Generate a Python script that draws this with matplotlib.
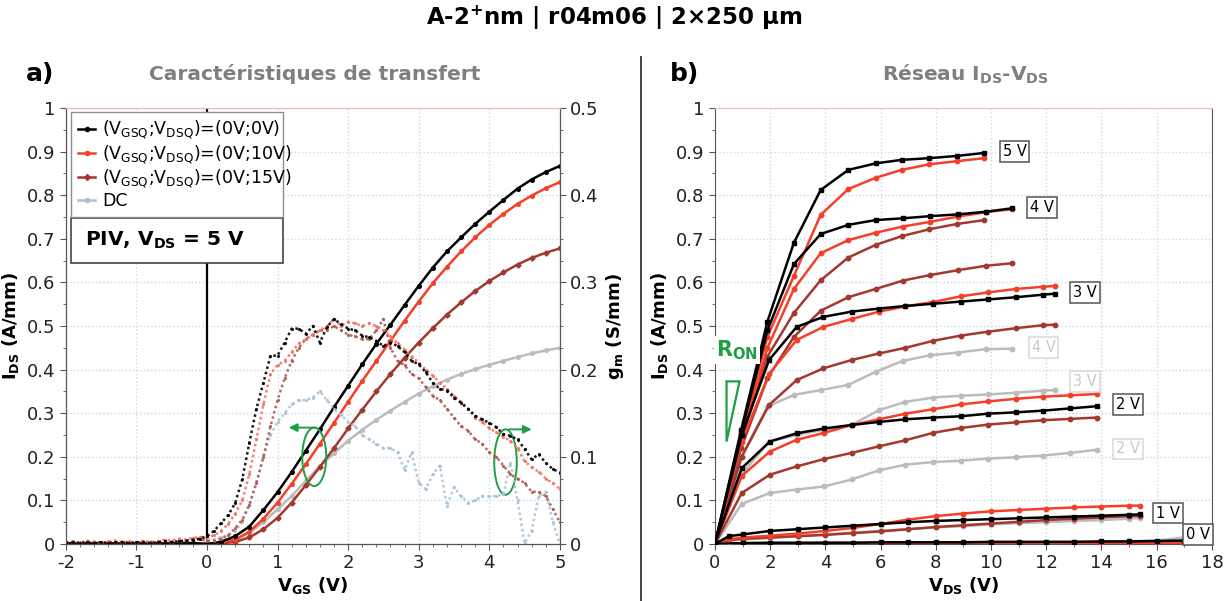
import numpy as np
import matplotlib
matplotlib.use("Agg")
import matplotlib.pyplot as plt
from matplotlib.patches import Ellipse, Rectangle, Polygon
from matplotlib.lines import Line2D
from matplotlib.ticker import MultipleLocator

plt.rcParams['font.family'] = ['DejaVu Sans']
plt.rcParams['mathtext.default'] = 'regular'
plt.rcParams['axes.unicode_minus'] = False

# ---------------- a) transfer characteristics (VDS = 5 V) ----------------
vgs_ids = np.round(np.arange(-2, 5.001, 0.2), 1)   # sweep, 36 points
ids_neg = [0.002, 0.001, 0.002, 0.001, 0.002, 0.001, 0.002, 0.001, 0.002, 0.002]
ids_0v0v = ids_neg + [0.0, 0.005, 0.018, 0.04, 0.078, 0.119, 0.165, 0.214, 0.263, 0.314,
                      0.363, 0.412, 0.459, 0.503, 0.548, 0.592, 0.634, 0.671, 0.703, 0.734,
                      0.762, 0.789, 0.815, 0.836, 0.853, 0.867]
ids_0v10v = ids_neg + [0.0, 0.003, 0.01, 0.028, 0.058, 0.095, 0.138, 0.183, 0.23, 0.278,
                       0.326, 0.374, 0.42, 0.466, 0.512, 0.556, 0.598, 0.636, 0.671, 0.703,
                       0.732, 0.757, 0.78, 0.799, 0.816, 0.83]
ids_0v15v = ids_neg + [0.0, 0.001, 0.005, 0.015, 0.034, 0.06, 0.095, 0.135, 0.177, 0.22,
                       0.265, 0.308, 0.35, 0.39, 0.427, 0.462, 0.495, 0.526, 0.554, 0.58,
                       0.603, 0.623, 0.641, 0.656, 0.668, 0.678]
ids_dc = ids_neg + [0.0, 0.003, 0.01, 0.025, 0.05, 0.08, 0.11, 0.145, 0.178, 0.208,
                    0.237, 0.262, 0.285, 0.306, 0.326, 0.345, 0.362, 0.377, 0.39, 0.401,
                    0.411, 0.42, 0.429, 0.437, 0.444, 0.45]

vgs_gm = np.round(np.arange(-2, 5.001, 0.1), 1)    # sweep, 71 points
gm_neg_a = [0.001, 0.002, 0.001, 0.002, 0.001, 0.002, 0.001, 0.002, 0.002, 0.001,
            0.002, 0.002, 0.001, 0.002, 0.003, 0.002, 0.003, 0.004, 0.005, 0.006]
gm_neg_b = [0.002, 0.003, 0.001, 0.004, 0.002, 0.001, 0.003, 0.004, 0.002, 0.003,
            0.001, 0.004, 0.002, 0.003, 0.005, 0.004, 0.006, 0.005, 0.007, 0.008]
gm_0v0v = gm_neg_a + [0.009, 0.015, 0.024, 0.033, 0.047, 0.074, 0.116, 0.155, 0.185, 0.216,
                      0.216, 0.231, 0.247, 0.247, 0.241, 0.25, 0.231, 0.249, 0.258, 0.252,
                      0.247, 0.245, 0.239, 0.237, 0.233, 0.227, 0.231, 0.227, 0.22, 0.21,
                      0.206, 0.197, 0.185, 0.178, 0.176, 0.168, 0.162, 0.155, 0.147, 0.143,
                      0.139, 0.134, 0.126, 0.124, 0.12, 0.109, 0.097, 0.103, 0.093, 0.086,
                      0.082]
gm_0v10v = gm_neg_b + [0.008, 0.01, 0.015, 0.023, 0.035, 0.05, 0.08, 0.12, 0.16, 0.195,
                       0.205, 0.21, 0.22, 0.23, 0.235, 0.24, 0.245, 0.25, 0.258, 0.25,
                       0.255, 0.253, 0.25, 0.253, 0.25, 0.245, 0.238, 0.23, 0.223, 0.215,
                       0.208, 0.2, 0.193, 0.185, 0.178, 0.17, 0.163, 0.155, 0.145, 0.14,
                       0.133, 0.128, 0.123, 0.118, 0.11, 0.095, 0.088, 0.083, 0.075, 0.07,
                       0.063]
gm_0v15v = gm_neg_a + [0.003, 0.004, 0.006, 0.01, 0.018, 0.028, 0.045, 0.07, 0.1, 0.135,
                       0.165, 0.19, 0.21, 0.225, 0.235, 0.24, 0.245, 0.245, 0.25, 0.245,
                       0.24, 0.238, 0.235, 0.235, 0.245, 0.258, 0.225, 0.21, 0.205, 0.195,
                       0.19, 0.18, 0.17, 0.165, 0.155, 0.145, 0.135, 0.13, 0.12, 0.115,
                       0.105, 0.1, 0.09, 0.08, 0.075, 0.07, 0.06, 0.06, 0.055, 0.04,
                       0.025]
gm_dc = gm_neg_a + [0.005, 0.005, 0.008, 0.01, 0.015, 0.025, 0.045, 0.07, 0.1, 0.125,
                    0.14, 0.15, 0.16, 0.165, 0.165, 0.168, 0.175, 0.165, 0.155, 0.148,
                    0.14, 0.135, 0.125, 0.12, 0.115, 0.11, 0.11, 0.105, 0.085, 0.105,
                    0.07, 0.063, 0.08, 0.09, 0.044, 0.065, 0.055, 0.047, 0.05, 0.055,
                    0.055, 0.055, 0.057, 0.093, 0.05, 0.001, 0.015, 0.055, 0.06, 0.025,
                    0.0]

legend_labels = [r'(V$_{GSQ}$;V$_{DSQ}$)=(0V;0V)', r'(V$_{GSQ}$;V$_{DSQ}$)=(0V;10V)',
                 r'(V$_{GSQ}$;V$_{DSQ}$)=(0V;15V)', 'DC']

# ---------------- b) IDS-VDS network ----------------
vds5 = [0, 0.95, 1.9, 2.86, 3.83, 4.83, 5.82, 6.76, 7.77, 8.76, 9.76]
black5 = [0, 0.262, 0.51, 0.691, 0.812, 0.858, 0.873, 0.881, 0.885, 0.89, 0.897]
red5 = [0, 0.25, 0.475, 0.615, 0.755, 0.814, 0.84, 0.858, 0.871, 0.878, 0.885]
dred5 = [0, 0.235, 0.43, 0.53, 0.605, 0.657, 0.686, 0.706, 0.722, 0.734, 0.743]

vds4 = [0, 0.95, 1.9, 2.86, 3.83, 4.83, 5.82, 6.8, 7.8, 8.8, 9.8, 10.76]
black4 = [0, 0.255, 0.49, 0.642, 0.711, 0.732, 0.743, 0.747, 0.752, 0.756, 0.762, 0.77]
red4 = [0, 0.24, 0.45, 0.585, 0.667, 0.697, 0.714, 0.728, 0.739, 0.751, 0.761, 0.768]
dred4 = [0, 0.22, 0.38, 0.475, 0.535, 0.566, 0.585, 0.604, 0.617, 0.628, 0.638, 0.644]
gray4 = [0, 0.2, 0.315, 0.342, 0.353, 0.365, 0.395, 0.42, 0.433, 0.439, 0.447, 0.448]

vds3 = [0, 0.97, 1.96, 2.96, 3.93, 4.95, 5.94, 6.9, 7.9, 8.9, 9.9, 10.9, 11.9, 12.3]
black3 = [0, 0.25, 0.422, 0.498, 0.521, 0.533, 0.54, 0.546, 0.551, 0.556, 0.561, 0.566, 0.572, 0.574]
red3 = [0, 0.235, 0.39, 0.468, 0.498, 0.516, 0.533, 0.545, 0.555, 0.568, 0.577, 0.585, 0.59, 0.592]
dred3 = [0, 0.2, 0.319, 0.376, 0.403, 0.422, 0.437, 0.45, 0.466, 0.478, 0.487, 0.495, 0.502, 0.503]
gray3 = [0, 0.16, 0.235, 0.25, 0.262, 0.273, 0.307, 0.326, 0.336, 0.34, 0.343, 0.347, 0.352, 0.353]

vds2 = [0, 0.97, 1.99, 2.96, 3.96, 4.95, 5.94, 6.9, 7.9, 8.9, 9.9, 10.9, 11.9, 12.86, 13.82]
black2 = [0, 0.174, 0.235, 0.254, 0.265, 0.273, 0.28, 0.286, 0.29, 0.293, 0.299, 0.302, 0.306, 0.311, 0.316]
red2 = [0, 0.156, 0.212, 0.239, 0.255, 0.273, 0.286, 0.299, 0.309, 0.32, 0.327, 0.333, 0.338, 0.341, 0.344]
dred2 = [0, 0.117, 0.159, 0.178, 0.195, 0.209, 0.224, 0.238, 0.255, 0.266, 0.274, 0.279, 0.284, 0.287, 0.29]
gray2 = [0, 0.092, 0.117, 0.125, 0.132, 0.148, 0.169, 0.182, 0.188, 0.191, 0.196, 0.199, 0.203, 0.209, 0.216]

vds1 = [0, 0.5, 1, 2, 3, 4, 5, 6, 7, 8, 9, 10, 11, 12, 13, 14, 15, 15.4]
black1 = [0, 0.018, 0.022, 0.03, 0.034, 0.038, 0.042, 0.046, 0.05, 0.053, 0.055, 0.057, 0.059, 0.061, 0.063, 0.065, 0.067, 0.068]
red1 = [0, 0.011, 0.015, 0.019, 0.024, 0.03, 0.037, 0.046, 0.056, 0.064, 0.07, 0.075, 0.078, 0.081, 0.084, 0.086, 0.088, 0.088]
dred1 = [0, 0.009, 0.012, 0.015, 0.018, 0.021, 0.025, 0.029, 0.034, 0.039, 0.043, 0.047, 0.051, 0.055, 0.058, 0.061, 0.064, 0.065]
gray1 = [0, 0.007, 0.01, 0.014, 0.018, 0.022, 0.026, 0.03, 0.034, 0.038, 0.041, 0.045, 0.048, 0.05, 0.053, 0.055, 0.058, 0.06]

vds0 = [0, 1, 2, 3, 4, 5, 6, 7, 8, 9, 10, 11, 12, 13, 14, 15, 16, 17]
black0 = [0, 0.002, 0.003, 0.003, 0.003, 0.003, 0.004, 0.004, 0.004, 0.004, 0.005, 0.005, 0.005, 0.005, 0.006, 0.006, 0.007, 0.008]
red0 = [0, 0.001, 0.001, 0.001, 0.002, 0.002, 0.002, 0.002, 0.002, 0.002, 0.002, 0.002, 0.003, 0.003, 0.003, 0.003, 0.003, 0.003]
dred0 = [0, 0.001, 0.001, 0.001, 0.001, 0.001, 0.001, 0.002, 0.002, 0.002, 0.002, 0.002, 0.002, 0.002, 0.002, 0.002, 0.002, 0.002]
gray0 = [0, 0.002, 0.002, 0.002, 0.003, 0.003, 0.003, 0.003, 0.003, 0.004, 0.004, 0.004, 0.004, 0.005, 0.005, 0.006, 0.008, 0.015]

vgs_labels = ['5 V', '4 V', '3 V', '2 V', '1 V', '0 V']
label_pos = [(10.85, 0.9), (11.85, 0.771), (13.4, 0.577), (14.95, 0.32), (16.4, 0.071), (17.5, 0.021)]
dc_labels = ['4 V', '3 V', '2 V']
dc_label_pos = [(11.9, 0.45), (13.4, 0.373), (14.95, 0.218)]

# colours
BLACK = '#000000'
RED = '#f4402a'
DRED = '#a3382f'
GRAY = '#bcbcbc'
GM_RED = '#f37260'
GM_DRED = '#b05a50'
GM_DC = '#a9c2d4'
GREEN = '#1f9e45'
GRID = '#c6dbea'
PINK = '#f2b9b0'
TITLE_GRAY = '#7f7f7f'

fig = plt.figure(figsize=(12.28, 6.01), dpi=100)

fig.text(0.5, 1 - 18 / 601, r'A-2$^{+}$nm | r04m06 | 2×250 µm', ha='center', va='center',
         fontsize=16.5, fontweight='bold')
fig.text(40 / 1228, 1 - 74 / 601, 'a)', ha='center', va='center', fontsize=18, fontweight='bold')
fig.text(315 / 1228, 1 - 74 / 601, 'Caractéristiques de transfert', ha='center', va='center',
         fontsize=14.5, fontweight='bold', color=TITLE_GRAY)
fig.text(684 / 1228, 1 - 74 / 601, 'b)', ha='center', va='center', fontsize=18, fontweight='bold')
fig.text(965 / 1228, 1 - 74 / 601, r'Réseau $\mathbf{I_{DS}}$-$\mathbf{V_{DS}}$', ha='center',
         va='center', fontsize=14.5, fontweight='bold', color=TITLE_GRAY)
fig.add_artist(Line2D([641 / 1228, 641 / 1228], [0, 1 - 57 / 601], color='#333333', lw=1.3))


def style_axes(ax):
    ax.grid(True, which='major', color=GRID, ls=':', lw=1.0)
    ax.set_axisbelow(True)
    ax.spines['top'].set_color(PINK)
    for s in ['left', 'bottom', 'right']:
        ax.spines[s].set_color('#555555')
    ax.tick_params(which='both', labelsize=13, colors='#555555', labelcolor='#222222')
    ax.tick_params(which='major', length=4)
    ax.tick_params(which='minor', length=2)


# ---- panel a ----
ax1 = fig.add_axes([0.0536, 0.0948, 0.4023, 0.7255])
ax1.set_xlim(-2, 5)
ax1.set_ylim(0, 1)
ax1.set_xticks(range(-2, 6))
ax1.set_yticks(np.round(np.arange(0, 1.01, 0.1), 1))
ax1.set_yticklabels(['0'] + ['%.1f' % v for v in np.arange(0.1, 0.95, 0.1)] + ['1'])
ax1.xaxis.set_minor_locator(MultipleLocator(0.2))
ax1.yaxis.set_minor_locator(MultipleLocator(0.05))
style_axes(ax1)
ax1.axvline(0, color='black', lw=1.6, zorder=1)

ax2 = ax1.twinx()
ax2.set_ylim(0, 0.5)
ax2.set_yticks(np.round(np.arange(0, 0.51, 0.1), 1))
ax2.set_yticklabels(['0', '0.1', '0.2', '0.3', '0.4', '0.5'])
ax2.yaxis.set_minor_locator(MultipleLocator(0.025))
style_axes(ax2)
ax2.grid(False)

gm_series = [(gm_dc, GM_DC), (gm_0v15v, GM_DRED), (gm_0v10v, GM_RED), (gm_0v0v, BLACK)]
for vals, col in gm_series:
    ax2.plot(vgs_gm, vals, ls=(0, (1, 1.2)), lw=1.8, color=col, marker='.', ms=2.5, alpha=0.9)

ids_series = [(ids_dc, GRAY, 'o'), (ids_0v15v, DRED, 'D'), (ids_0v10v, RED, 'o'), (ids_0v0v, BLACK, 'o')]
for vals, col, mk in ids_series:
    ax1.plot(vgs_ids, vals, '-', color=col, lw=1.8, marker=mk, ms=2.6, zorder=3)

ax1.set_xlabel(r'$\mathbf{V_{GS}}$ (V)', fontsize=13, fontweight='bold', labelpad=2)
ax1.set_ylabel(r'$\mathbf{I_{DS}}$ (A/mm)', fontsize=13, fontweight='bold', labelpad=4)
ax2.set_ylabel(r'$\mathbf{g_{m}}$ (S/mm)', fontsize=13, fontweight='bold', labelpad=4)

# ellipses and arrows
ax1.add_patch(Ellipse((1.52, 0.2), 0.34, 0.134, fill=False, ec=GREEN, lw=1.4, zorder=6))
ax1.add_patch(Ellipse((4.23, 0.188), 0.32, 0.15, fill=False, ec=GREEN, lw=1.4, zorder=6))
ax1.annotate('', xy=(1.12, 0.267), xytext=(1.58, 0.267),
             arrowprops=dict(arrowstyle='-|>', color=GREEN, lw=1.4, mutation_scale=12), zorder=6)
ax1.annotate('', xy=(4.64, 0.263), xytext=(4.24, 0.263),
             arrowprops=dict(arrowstyle='-|>', color=GREEN, lw=1.4, mutation_scale=12), zorder=6)

handles = [Line2D([], [], color=BLACK, marker='o', ms=3, lw=1.8),
           Line2D([], [], color=RED, marker='o', ms=3, lw=1.8),
           Line2D([], [], color=DRED, marker='D', ms=3, lw=1.8),
           Line2D([], [], color=GM_DC, marker='o', ms=3, lw=1.8)]
leg = ax2.legend(handles, legend_labels, loc='upper left', bbox_to_anchor=(0.0105, 0.9915, 0.429, 0.0),
                 mode='expand', fontsize=12.5, handlelength=1.0, handletextpad=0.4, labelspacing=0.1,
                 borderpad=0.4, borderaxespad=0, fancybox=False, framealpha=1, edgecolor='#8a8f98')
leg.get_frame().set_linewidth(1.0)
leg.set_zorder(10)

ax2.add_patch(Rectangle((0.0105, 0.6445), 0.429, 0.1035, transform=ax2.transAxes,
                        fc='white', ec='#444444', lw=1.2, zorder=10))
ax2.text(0.2, 0.696, r'PIV, V$_{\mathbf{DS}}$ = 5 V', transform=ax2.transAxes, ha='center', va='center',
         fontsize=14.5, fontweight='bold', zorder=11)

# ---- panel b ----
ax3 = fig.add_axes([0.5822, 0.0948, 0.4047, 0.7255])
ax3.set_xlim(0, 18)
ax3.set_ylim(0, 1)
ax3.set_xticks(range(0, 19, 2))
ax3.set_yticks(np.round(np.arange(0, 1.01, 0.1), 1))
ax3.set_yticklabels(['0'] + ['%.1f' % v for v in np.arange(0.1, 0.95, 0.1)] + ['1'])
ax3.xaxis.set_minor_locator(MultipleLocator(1))
ax3.yaxis.set_minor_locator(MultipleLocator(0.05))
style_axes(ax3)

curves = [
    (vds4, gray4, GRAY), (vds3, gray3, GRAY), (vds2, gray2, GRAY), (vds1, gray1, GRAY), (vds0, gray0, GRAY),
    (vds5, dred5, DRED), (vds4, dred4, DRED), (vds3, dred3, DRED), (vds2, dred2, DRED), (vds1, dred1, DRED),
    (vds0, dred0, DRED),
    (vds5, red5, RED), (vds4, red4, RED), (vds3, red3, RED), (vds2, red2, RED), (vds1, red1, RED), (vds0, red0, RED),
]
for x, y, col in curves:
    ax3.plot(x, y, '-', color=col, lw=1.8, marker='o', ms=3.2, zorder=3)
for x, y in [(vds5, black5), (vds4, black4), (vds3, black3), (vds2, black2), (vds1, black1), (vds0, black0)]:
    ax3.plot(x, y, '-', color=BLACK, lw=1.8, marker='s', ms=3.2, zorder=4)

for txt, (x, y) in zip(vgs_labels, label_pos):
    ax3.text(x, y, txt, ha='center', va='center', fontsize=10.5, color='black', zorder=6,
             bbox=dict(boxstyle='square,pad=0.2', fc='white', ec='#555555', lw=1.1))
for txt, (x, y) in zip(dc_labels, dc_label_pos):
    ax3.text(x, y, txt, ha='center', va='center', fontsize=10.5, color='#c8c8c8', zorder=6,
             bbox=dict(boxstyle='square,pad=0.2', fc='white', ec='#d8d8d8', lw=1.1))

ax3.text(0.05, 0.445, r'$\mathbf{R_{ON}}$', color=GREEN, fontsize=15, ha='left', va='center', zorder=7,
         bbox=dict(boxstyle='square,pad=0.1', fc='white', ec='none'))
ax3.add_patch(Polygon([(0.42, 0.373), (0.89, 0.373), (0.42, 0.235)], closed=True, fill=False,
                      ec=GREEN, lw=1.6, zorder=7))

ax3.set_xlabel(r'$\mathbf{V_{DS}}$ (V)', fontsize=13, fontweight='bold', labelpad=2)
ax3.set_ylabel(r'$\mathbf{I_{DS}}$ (A/mm)', fontsize=13, fontweight='bold', labelpad=4)

fig.savefig('out.png', dpi=100)
